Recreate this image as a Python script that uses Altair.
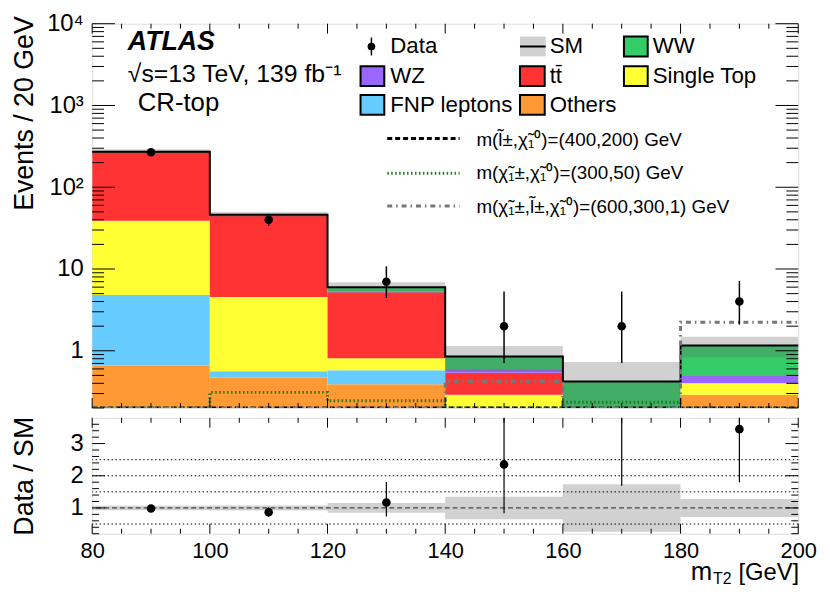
import altair as alt
import pandas as pd

# ---------------- data ----------------
bin_lo = [80, 100, 120, 140, 160, 180]
bin_hi = [100, 120, 140, 160, 180, 200]
processes = ["Others", "FNP leptons", "Single Top", "ttbar", "WZ", "WW"]  # bottom -> top
proc_colors = ["#ff9933", "#66ccff", "#ffff33", "#ff3333", "#9966ff", "#33cc66"]
others = [0.66, 0.47, 0.39, 0.0, 0.0, 0.29]
fnp = [4.14, 0.09, 0.19, 0.0, 0.0, 0.0]
single_top = [34.0, 3.98, 0.23, 0.29, 0.0, 0.11]
ttbar = [232.0, 40.1, 4.40, 0.25, 0.0, 0.0]
wz = [0.3, 0.2, 0.10, 0.06, 0.0, 0.09]
ww = [1.0, 1.4, 0.68, 0.25, 0.42, 0.67]
sm_rel_unc = [0.07, 0.08, 0.15, 0.35, 0.74, 0.28]
data_n = [268, 40, 7, 2, 2, 4]
data_lo = [251.6, 33.7, 4.42, 0.71, 0.71, 2.09]
data_hi = [285.0, 47.4, 10.8, 5.30, 5.30, 7.16]
sig_slep = [0.12, 0.09, 0.15, 0.11, 0.08, 0.14]
sig_c1c1 = [0.19, 0.31, 0.245, 0.15, 0.235, 0.16]
sig_c1slep = [0.15, 0.12, 0.10, 0.42, 0.11, 2.24]

x_major = [80, 100, 120, 140, 160, 180, 200]
x_minor = [85, 90, 95, 105, 110, 115, 125, 130, 135, 145, 150, 155, 165, 170, 175, 185, 190, 195]
y_major = [1, 10, 100, 1000, 10000]
y_minor = [m * 10 ** e for e in range(-1, 4) for m in range(2, 10) if m * 10 ** e >= 0.2]
r_major = [1, 2, 3]
r_minor = [0.2, 0.4, 0.6, 0.8, 1.2, 1.4, 1.6, 1.8, 2.2, 2.4, 2.6, 2.8, 3.2, 3.4, 3.6]
r_dotted = [0.5, 1.5, 2.0, 2.5]

FONT = "Liberation Sans"
W, H_MAIN, H_RATIO = 713, 388, 117
LEFT, TOP = 91, 20          # page position of the main plot's top-left corner
RTOP = 418                  # page position of the ratio plot's top

# ---------------- derived tables ----------------
comp = [others, fnp, single_top, ttbar, wz, ww]
rows = []
sm_tot = []
for i in range(len(bin_lo)):
    cum = 0.0
    for p, vals in zip(processes, comp):
        lo = cum
        cum += vals[i]
        rows.append(dict(lo=bin_lo[i], hi=bin_hi[i], proc=p, y0=max(lo, 1e-3), y1=max(cum, 1e-3)))
    sm_tot.append(cum)
stack_df = pd.DataFrame(rows)

bins_df = pd.DataFrame(dict(lo=bin_lo, hi=bin_hi, sm=sm_tot, rel=sm_rel_unc,
                            n=data_n, elo=data_lo, ehi=data_hi))
bins_df["c"] = (bins_df.lo + bins_df.hi) / 2
bins_df["band_lo"] = bins_df.sm * (1 - bins_df.rel)
bins_df["band_hi"] = bins_df.sm * (1 + bins_df.rel)
bins_df["r"] = bins_df.n / bins_df.sm
bins_df["rlo"] = bins_df.elo / bins_df.sm
bins_df["rhi"] = bins_df.ehi / bins_df.sm
bins_df["r_band_lo"] = 1 - bins_df.rel
bins_df["r_band_hi"] = 1 + bins_df.rel


def step_df(vals):
    return pd.DataFrame(dict(x=bin_lo + [bin_hi[-1]], v=list(vals) + [vals[-1]]))


xsc = alt.Scale(domain=[80, 200], nice=False, zero=False)
ysc = alt.Scale(type="log", domain=[0.2, 10000], clamp=True, nice=False)
rsc = alt.Scale(domain=[0.2, 3.8], nice=False, zero=False, clamp=True)

# ---------------- main panel ----------------
bars = alt.Chart(stack_df).mark_rect(clip=True).encode(
    x=alt.X("lo:Q", scale=xsc, axis=None),
    x2="hi:Q",
    y=alt.Y("y0:Q", scale=ysc,
            axis=alt.Axis(values=y_major, ticks=False, domain=False, grid=False,
                          labelFontSize=24, labelPadding=9, labelFont=FONT,
                          labelExpr="datum.value >= 10000 ? '10⁴' : datum.value >= 1000 ? '10³' : datum.value >= 100 ? '10²' : datum.value >= 10 ? '10' : '1'",
                          title="Events / 20 GeV", titleFontSize=27, titleFontWeight="normal",
                          titleFont=FONT, titleX=-68, titleY=-8, titleAlign="right",
                          titleBaseline="middle", titleAngle=-90)),
    y2="y1:Q",
    color=alt.Color("proc:N", scale=alt.Scale(domain=processes, range=proc_colors), legend=None),
)

band = alt.Chart(bins_df).mark_rect(color="#666666", opacity=0.3, clip=True).encode(
    x=alt.X("lo:Q", scale=xsc), x2="hi:Q",
    y=alt.Y("band_lo:Q", scale=ysc), y2="band_hi:Q")

sm_line = alt.Chart(step_df(sm_tot)).mark_line(interpolate="step-after", color="black", strokeWidth=2).encode(
    x=alt.X("x:Q", scale=xsc), y=alt.Y("v:Q", scale=ysc))

sig1 = alt.Chart(step_df(sig_slep)).mark_line(interpolate="step-after", color="black", strokeWidth=3,
                                               strokeDash=[5, 3], clip=True).encode(
    x=alt.X("x:Q", scale=xsc), y=alt.Y("v:Q", scale=ysc))
sig2 = alt.Chart(step_df(sig_c1c1)).mark_line(interpolate="step-after", color="#1b7d1b", strokeWidth=3,
                                               strokeDash=[1.5, 2.5], clip=True).encode(
    x=alt.X("x:Q", scale=xsc), y=alt.Y("v:Q", scale=ysc))
sig3 = alt.Chart(step_df(sig_c1slep)).mark_line(interpolate="step-after", color="#777777", strokeWidth=3,
                                                 strokeDash=[5, 4, 1.5, 4], clip=True).encode(
    x=alt.X("x:Q", scale=xsc), y=alt.Y("v:Q", scale=ysc))

err_main = alt.Chart(bins_df).mark_rule(color="black", strokeWidth=1.5).encode(
    x=alt.X("c:Q", scale=xsc), y=alt.Y("elo:Q", scale=ysc), y2="ehi:Q")
pts_main = alt.Chart(bins_df).mark_circle(color="black", size=75, opacity=1).encode(
    x=alt.X("c:Q", scale=xsc), y=alt.Y("n:Q", scale=ysc))


def yticks(vals, length, scale):
    d = pd.DataFrame(dict(v=vals))
    left = alt.Chart(d).mark_rule(color="black", strokeWidth=1).encode(
        x=alt.value(0), x2=alt.value(length), y=alt.Y("v:Q", scale=scale))
    right = alt.Chart(d).mark_rule(color="black", strokeWidth=1).encode(
        x=alt.value(W), x2=alt.value(W - length), y=alt.Y("v:Q", scale=scale))
    return [left, right]


def xticks(vals, length, height):
    d = pd.DataFrame(dict(v=vals))
    bot = alt.Chart(d).mark_rule(color="black", strokeWidth=1).encode(
        x=alt.X("v:Q", scale=xsc), y=alt.value(height), y2=alt.value(height - length))
    top = alt.Chart(d).mark_rule(color="black", strokeWidth=1).encode(
        x=alt.X("v:Q", scale=xsc), y=alt.value(0), y2=alt.value(length))
    return [bot, top]


main_ticks = (yticks(y_major, 23, ysc) + yticks(y_minor, 12, ysc)
              + xticks(x_major, 10, H_MAIN) + xticks(x_minor, 5, H_MAIN))


# ---- legend / labels (page pixel positions, converted to panel pixels) ----
def px(v):
    return [a - LEFT for a in v]


def py(v):
    return [a - TOP for a in v]


leg_boxes = pd.DataFrame(dict(
    name=["WW", "WZ", "ttbar", "Single Top", "FNP leptons", "Others"],
    x=px([628, 362, 523, 628, 362, 523]),
    x2=px([652, 386, 548, 652, 386, 548]),
    y=py([33, 63, 63, 63, 92, 92]),
    y2=py([53, 83, 83, 83, 112, 112]),
    col=["#33cc66", "#9966ff", "#ff3333", "#ffff33", "#66ccff", "#ff9933"],
))
leg_rects = alt.Chart(leg_boxes).mark_rect(stroke="black", strokeWidth=2).encode(
    x=alt.X("x:Q", scale=None), x2="x2:Q", y=alt.Y("y:Q", scale=None), y2="y2:Q",
    fill=alt.Color("col:N", scale=None))

leg_text_df = pd.DataFrame(dict(
    t=["Data", "SM", "WW", "WZ", "tt̄", "Single Top", "FNP leptons", "Others"],
    x=px([392, 553, 657, 392, 553, 657, 392, 553]),
    y=py([43, 43, 43, 73, 73, 73, 102, 102]),
))
leg_text = alt.Chart(leg_text_df).mark_text(align="left", baseline="middle", fontSize=22.5, font=FONT).encode(
    x=alt.X("x:Q", scale=None), y=alt.Y("y:Q", scale=None), text="t:N")

sig_text_df = pd.DataFrame(dict(
    t=["m(l̃±,χ̃₁⁰)=(400,200) GeV", "m(χ̃₁±,χ̃₁⁰)=(300,50) GeV", "m(χ̃₁±,l̃±,χ̃₁⁰)=(600,300,1) GeV"],
    x=px([479, 479, 479]),
    y=py([137, 171, 205]),
))
sig_text = alt.Chart(sig_text_df).mark_text(align="left", baseline="middle", fontSize=19, font=FONT).encode(
    x=alt.X("x:Q", scale=None), y=alt.Y("y:Q", scale=None), text="t:N")

leg_pt = alt.Chart(pd.DataFrame(dict(x=px([373]), y=py([43])))).mark_circle(color="black", size=60, opacity=1).encode(
    x=alt.X("x:Q", scale=None), y=alt.Y("y:Q", scale=None))
leg_pt_bar = alt.Chart(pd.DataFrame(dict(x=px([373]), y=py([34]), y2=py([52])))).mark_rule(color="black", strokeWidth=1.5).encode(
    x=alt.X("x:Q", scale=None), y=alt.Y("y:Q", scale=None), y2="y2:Q")
leg_sm_box = alt.Chart(pd.DataFrame(dict(x=px([523]), x2=px([549]), y=py([33]), y2=py([53])))).mark_rect(color="#666666", opacity=0.3).encode(
    x=alt.X("x:Q", scale=None), x2="x2:Q", y=alt.Y("y:Q", scale=None), y2="y2:Q")
leg_sm_line = alt.Chart(pd.DataFrame(dict(x=px([523]), x2=px([549]), y=py([43])))).mark_rule(color="black", strokeWidth=2).encode(
    x=alt.X("x:Q", scale=None), x2="x2:Q", y=alt.Y("y:Q", scale=None))


def leg_line(y, color, dash):
    return alt.Chart(pd.DataFrame(dict(x=px([389]), x2=px([462]), y=py([y])))).mark_rule(
        color=color, strokeWidth=3, strokeDash=dash).encode(
        x=alt.X("x:Q", scale=None), x2="x2:Q", y=alt.Y("y:Q", scale=None))


leg_lines = [leg_line(136, "black", [5, 3]), leg_line(171, "#1b7d1b", [1.5, 2.5]),
             leg_line(204, "#777777", [5, 4, 1.5, 4])]


def label(t, x, y, size, **kw):
    return alt.Chart(pd.DataFrame(dict(t=[t]))).mark_text(
        align="left", baseline="middle", fontSize=size, font=FONT, **kw).encode(
        x=alt.value(x - LEFT), y=alt.value(y - TOP), text="t:N")


atlas = label("ATLAS", 127, 39, 27, fontStyle="italic", fontWeight="bold")
energy = label("√s=13 TeV, 139 fb⁻¹", 127, 71, 25)
region = label("CR-top", 137, 100, 26)

main = alt.layer(
    bars, band, sm_line, sig1, sig2, sig3, err_main, pts_main, *main_ticks,
    leg_rects, leg_sm_box, leg_sm_line, leg_pt_bar, leg_pt, *leg_lines, leg_text, sig_text,
    atlas, energy, region,
).properties(width=W, height=H_MAIN)

# ---------------- ratio panel ----------------
r_band = alt.Chart(bins_df).mark_rect(color="#666666", opacity=0.3, clip=True).encode(
    x=alt.X("lo:Q", scale=xsc,
            axis=alt.Axis(values=x_major, format="d", ticks=False, domain=False, grid=False,
                          labelFontSize=22, labelPadding=7, labelFont=FONT, labelFlush=False, title=None)),
    x2="hi:Q",
    y=alt.Y("r_band_lo:Q", scale=rsc,
            axis=alt.Axis(values=r_major, ticks=False, domain=False, grid=False,
                          labelFontSize=24, labelPadding=9, labelFont=FONT,
                          title="Data / SM", titleFontSize=27, titleFontWeight="normal",
                          titleFont=FONT, titleX=-68, titleBaseline="middle", titleAngle=-90)),
    y2="r_band_hi:Q")

r_dot = alt.Chart(pd.DataFrame(dict(v=r_dotted))).mark_rule(color="black", strokeWidth=1, strokeDash=[1.5, 2.5]).encode(
    y=alt.Y("v:Q", scale=rsc))
r_one = alt.Chart(pd.DataFrame(dict(v=[1.0]))).mark_rule(color="#444444", strokeWidth=1.2, strokeDash=[5, 3]).encode(
    y=alt.Y("v:Q", scale=rsc))
r_err = alt.Chart(bins_df).mark_rule(color="black", strokeWidth=1.2, clip=True).encode(
    x=alt.X("c:Q", scale=xsc), y=alt.Y("rlo:Q", scale=rsc), y2="rhi:Q")
r_pts = alt.Chart(bins_df[bins_df.r <= 3.8]).mark_circle(color="black", size=75, opacity=1, clip=True).encode(
    x=alt.X("c:Q", scale=xsc), y=alt.Y("r:Q", scale=rsc))

ratio_ticks = (yticks(r_major, 13, rsc) + yticks(r_minor, 7, rsc)
               + xticks(x_major, 10, H_RATIO) + xticks(x_minor, 5, H_RATIO))

xt_m = alt.Chart(pd.DataFrame(dict(t=["m"]))).mark_text(
    align="right", baseline="alphabetic", fontSize=26, font=FONT).encode(
    x=alt.value(717 - LEFT), y=alt.value(582 - RTOP), text="t:N")
xt_sub = alt.Chart(pd.DataFrame(dict(t=["T2"]))).mark_text(
    align="left", baseline="alphabetic", fontSize=16, font=FONT).encode(
    x=alt.value(718 - LEFT), y=alt.value(586 - RTOP), text="t:N")
xt_gev = alt.Chart(pd.DataFrame(dict(t=["[GeV]"]))).mark_text(
    align="right", baseline="alphabetic", fontSize=24, font=FONT).encode(
    x=alt.value(805 - LEFT), y=alt.value(582 - RTOP), text="t:N")

ratio = alt.layer(
    r_band, r_dot, r_one, r_err, r_pts, *ratio_ticks, xt_m, xt_sub, xt_gev
).properties(width=W, height=H_RATIO)

chart = alt.vconcat(main, ratio, spacing=6).configure_view(
    stroke="black", strokeWidth=1.5
).configure(font=FONT).properties(
    padding={"left": 2, "top": 0, "right": 5, "bottom": 0},
)

chart.save("out.html", embed_options={"renderer": "svg", "actions": False})
